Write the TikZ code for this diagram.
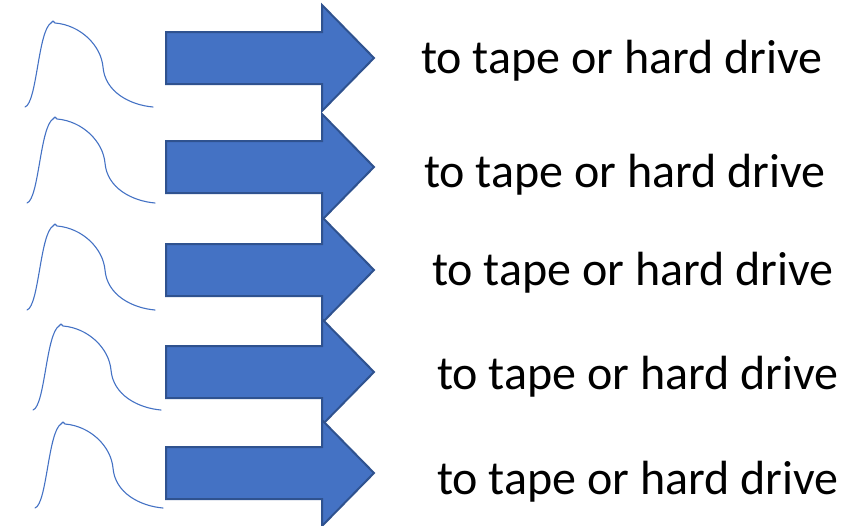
\documentclass[tikz,border=0pt]{standalone}
\usepackage{fontspec}
\setmainfont{Carlito}
\definecolor{arrfill}{HTML}{4472C4}
\definecolor{arrline}{HTML}{2F528F}
\definecolor{curvecol}{HTML}{4472C4}
\begin{document}
\begin{tikzpicture}[x=1pt,y=-1pt,
  bigarrow/.style={fill=arrfill,draw=arrline,line width=2pt,line join=miter},
  pulse/.style={draw=curvecol,line width=1.1pt,line join=round,line cap=round},
  label/.style={anchor=base west,inner sep=0pt,font=\fontsize{48}{50}\selectfont}]
\useasboundingbox (0,0) rectangle (866,525);
% pulse curves
\foreach \sx/\sy [count=\i] in {25/107,27/203,27/310,33/410,35/508}{
  \coordinate (c\i) at (\sx,\sy);
  \draw[pulse] (c\i) .. controls ++(12,-4) and ++(-13,8) .. ++(26,-84)
     -- ++(2,-2) -- ++(2,2)
     .. controls ++(25,2) and ++(-2,-22) .. ++(48,44)
     .. controls ++(2,25) and ++(-23,-2) .. ++(50,40);
}
% arrows
\foreach \ty [count=\i] in {58,167,270,372,473}{
  \coordinate (t\i) at (374,\ty);
  \draw[bigarrow] (166,\ty-26) -- (322,\ty-26) -- (322,\ty-53) -- (t\i)
     -- (322,\ty+53) -- (322,\ty+26) -- (166,\ty+26) -- cycle;
}
% labels
\node[label] (l1) at (421,73) {to tape or hard drive};
\node[label] (l2) at (424,187) {to tape or hard drive};
\node[label] (l3) at (432,285) {to tape or hard drive};
\node[label] (l4) at (437,389) {to tape or hard drive};
\node[label] (l5) at (437,494) {to tape or hard drive};
\end{tikzpicture}
\end{document}
